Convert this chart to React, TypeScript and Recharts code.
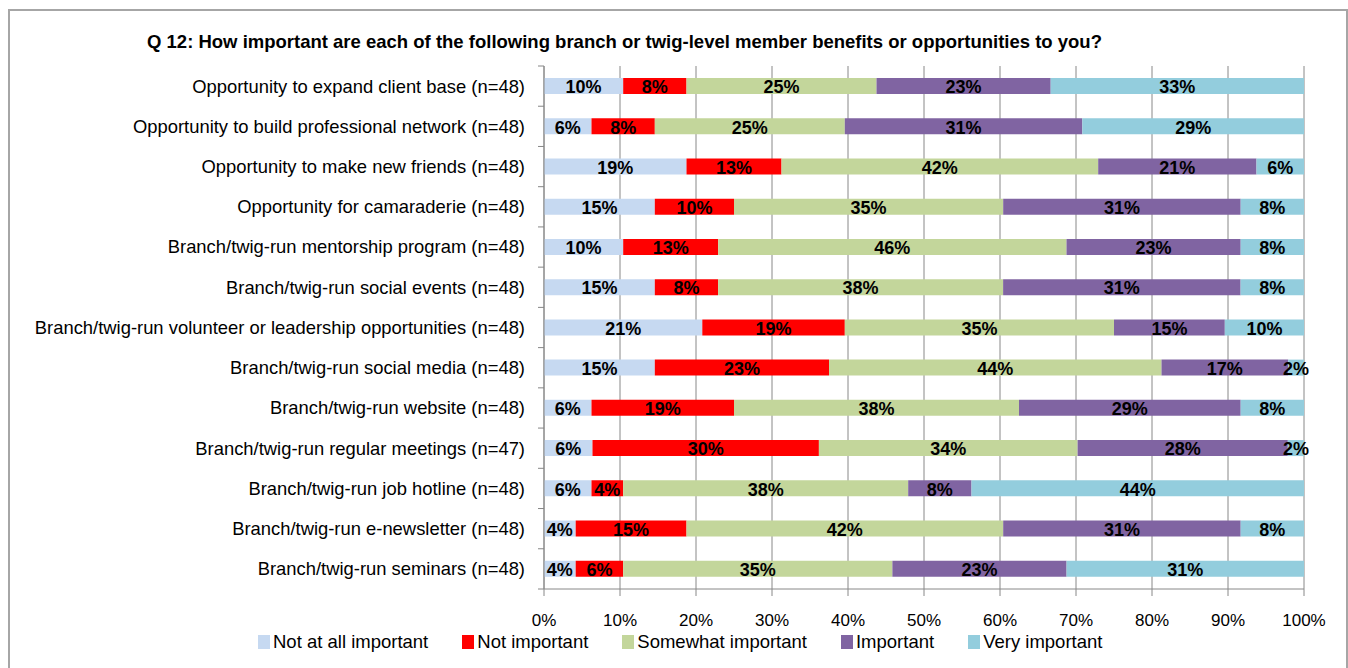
import React from "react";
import { BarChart, Bar, XAxis, YAxis, CartesianGrid, LabelList } from "recharts";

const categories = [
  "Opportunity to expand client base (n=48)",
  "Opportunity to build professional network (n=48)",
  "Opportunity to make new friends (n=48)",
  "Opportunity for camaraderie (n=48)",
  "Branch/twig-run mentorship program (n=48)",
  "Branch/twig-run social events (n=48)",
  "Branch/twig-run volunteer or leadership opportunities (n=48)",
  "Branch/twig-run social media (n=48)",
  "Branch/twig-run website (n=48)",
  "Branch/twig-run regular meetings (n=47)",
  "Branch/twig-run job hotline (n=48)",
  "Branch/twig-run e-newsletter (n=48)",
  "Branch/twig-run seminars (n=48)",
];

const notAtAll = [10.42, 6.25, 18.75, 14.58, 10.42, 14.58, 20.83, 14.58, 6.25, 6.38, 6.25, 4.17, 4.17];
const notImportant = [8.33, 8.33, 12.5, 10.42, 12.5, 8.33, 18.75, 22.92, 18.75, 29.79, 4.17, 14.58, 6.25];
const somewhat = [25.0, 25.0, 41.67, 35.42, 45.83, 37.5, 35.42, 43.75, 37.5, 34.04, 37.5, 41.67, 35.42];
const important = [22.92, 31.25, 20.83, 31.25, 22.92, 31.25, 14.58, 16.67, 29.17, 27.66, 8.33, 31.25, 22.92];
const veryImportant = [33.33, 29.17, 6.25, 8.33, 8.33, 8.33, 10.42, 2.08, 8.33, 2.13, 43.75, 8.33, 31.25];

const xTicks = [0, 10, 20, 30, 40, 50, 60, 70, 80, 90, 100];

const seriesNames = ["Not at all important", "Not important", "Somewhat important", "Important", "Very important"];
const seriesKeys = ["notAtAll", "notImportant", "somewhat", "important", "veryImportant"];
const seriesColors = ["#C6D9F1", "#FF0000", "#C3D69B", "#8064A2", "#93CDDD"];

const TITLE = "Q 12: How important are each of the following branch or twig-level member benefits or opportunities to you?";

const data = categories.map((name, i) => ({
  name,
  notAtAll: notAtAll[i],
  notImportant: notImportant[i],
  somewhat: somewhat[i],
  important: important[i],
  veryImportant: veryImportant[i],
}));

const FONT = "'Liberation Sans', Arial, sans-serif";
const CHART_W = 1348;
const CHART_H = 668;
const M_TOP = 66;
const M_BOTTOM = 79;
const Y_W = 544;
const M_RIGHT = 44;
const BAND = (CHART_H - M_TOP - M_BOTTOM) / categories.length;

const YTick = (props: any) => {
  const { y, payload, index } = props;
  return (
    <g>
      <line x1={Y_W - 6} x2={Y_W} y1={y - BAND / 2} y2={y - BAND / 2} stroke="#868686" />
      {index === categories.length - 1 && (
        <line x1={Y_W - 6} x2={Y_W} y1={y + BAND / 2} y2={y + BAND / 2} stroke="#868686" />
      )}
      <text x={Y_W - 19} y={y} dy="0.35em" textAnchor="end" fontSize={18.4} fontFamily={FONT} fill="#000">
        {payload.value}
      </text>
    </g>
  );
};

const renderLabel = (props: any) => {
  const { x, y, width, height, value } = props;
  return (
    <text
      x={x + width / 2}
      y={y + height / 2 + 1}
      dy="0.35em"
      textAnchor="middle"
      fontSize={18}
      fontWeight="bold"
      fontFamily={FONT}
      fill="#000"
    >
      {Math.round(value)}%
    </text>
  );
};

export default function App() {
  return (
    <div style={{ position: "absolute", left: 0, top: 0, width: CHART_W, height: CHART_H, overflow: "hidden", background: "#fff", fontFamily: FONT }}>
      <div
        style={{
          position: "absolute",
          left: 8,
          top: 9,
          width: 1336,
          height: 700,
          border: "2px solid #a6a6a6",
          borderBottom: "none",
        }}
      />
      <div
        style={{
          position: "absolute",
          left: 0,
          width: 1249,
          top: 31,
          textAlign: "center",
          fontSize: 18.5,
          fontWeight: "bold",
          color: "#000",
          whiteSpace: "nowrap",
        }}
      >
        {TITLE}
      </div>
      <div style={{ position: "absolute", left: 0, top: 0 }}>
        <BarChart
          width={CHART_W}
          height={CHART_H}
          data={data}
          layout="vertical"
          margin={{ top: M_TOP, right: M_RIGHT, bottom: 0, left: 0 }}
          barSize={16}
        >
          <CartesianGrid horizontal={false} vertical={true} stroke="#888888" strokeWidth={1} />
          <XAxis
            type="number"
            domain={[0, 100]}
            allowDataOverflow
            ticks={xTicks}
            tickFormatter={(v: number) => `${v}%`}
            axisLine={{ stroke: "#888888" }}
            tickLine={{ stroke: "#888888" }}
            tickSize={7}
            tickMargin={18}
            height={M_BOTTOM}
            tick={{ fontSize: 17, fill: "#000", fontFamily: FONT }}
            interval={0}
          />
          <YAxis
            type="category"
            dataKey="name"
            width={Y_W}
            axisLine={{ stroke: "#888888" }}
            tickLine={false}
            tick={<YTick />}
            interval={0}
          />
          {seriesKeys.map((k, i) => (
            <Bar key={k} dataKey={k} name={seriesNames[i]} stackId="a" fill={seriesColors[i]} isAnimationActive={false}>
              <LabelList dataKey={k} content={renderLabel} />
            </Bar>
          ))}
        </BarChart>
      </div>
      <div
        style={{
          position: "absolute",
          left: 258,
          top: 631,
          display: "flex",
          alignItems: "center",
          fontSize: 18.5,
          color: "#000",
          whiteSpace: "nowrap",
        }}
      >
        {seriesNames.map((n, i) => (
          <div key={n} style={{ display: "flex", alignItems: "center", marginRight: 34 }}>
            <div style={{ width: 12, height: 14, background: seriesColors[i], marginRight: 3 }} />
            <span>{n}</span>
          </div>
        ))}
      </div>
    </div>
  );
}
